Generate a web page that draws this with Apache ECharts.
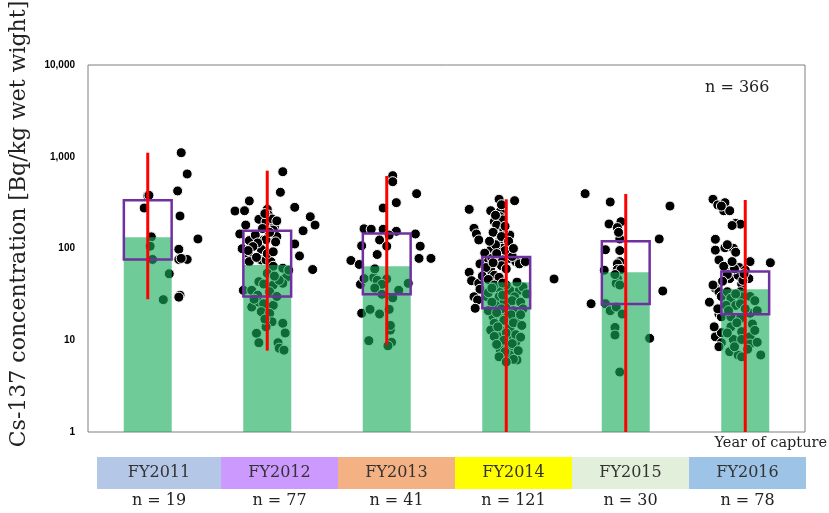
<!DOCTYPE html>
<html><head><meta charset="utf-8">
<script src="https://cdn.jsdelivr.net/npm/echarts@6/dist/echarts.min.js"></script>
<style>html,body{margin:0;padding:0;background:#fff}#c{width:829px;height:513px}</style>
</head><body><div id="c"></div>
<script>
// ---------- DATA ----------
const categories = ['FY2011','FY2012','FY2013','FY2014','FY2015','FY2016'];
const counts = [19, 77, 41, 121, 30, 78];
const bandColors = ['#B4C7E7','#CC99FF','#F4B183','#FFFF00','#E2EFDA','#9DC3E6'];
const medians = [133, 66, 64, 43, 55, 36];
const q1 = [76, 30, 31.7, 22.3, 24.8, 19.2];
const q3 = [335, 156, 146, 81, 120, 56];
const minVals = [28, 7.7, 8.9, 1, 1, 1];
const maxVals = [1107, 705, 617, 344, 393, 338];
const yTicks = [1, 10, 100, 1000, 10000];
// individual samples: [jitter (category units), Bq/kg]
const pts2011 = [[0.28,1107],[0.33,649],[0.00,376],[0.01,380],[0.25,424],[-0.03,276],[0.27,226],[0.42,127],[0.03,134],[0.02,106],[0.26,98],[0.04,76],[0.26,76],[0.33,76],[0.18,53],[0.27,31],[0.26,29.5],[0.13,27.7],[0.28,78]];
const pts2012 = [[0.13,687],[0.11,410],[-0.15,330],[0.23,281],[-0.27,256],[-0.19,258],[0.00,267],[-0.07,208],[0.01,232],[-0.01,196],[0.36,222],[0.40,180],[-0.18,180],[0.06,173],[0.05,159],[0.30,156],[0.08,135],[-0.23,144],[-0.15,122],[-0.03,124],[-0.01,125],[0.23,112],[-0.21,99.5],[-0.05,98],[0.27,83],[-0.15,85],[-0.05,75],[-0.15,72],[-0.01,75],[0.03,72],[0.38,59],[-0.20,35],
 [-0.10,140],[0.02,150],[-0.04,165],[0.04,210],[-0.08,115],[0.07,118],[-0.12,105],[0.00,88],[-0.09,80],[0.05,92],[-0.02,240],[0.08,200],[-0.16,95],
 [0.05,64],[0.13,61],[0.16,48.5],[0.13,41.8],[0.05,40],[0.00,53.7],[-0.07,43.5],[-0.03,41],[-0.13,35],[-0.08,31],[0.02,33.8],[-0.13,23],[-0.07,26],[-0.03,25],[0.05,24],[-0.05,20.5],[0.02,19.6],[0.04,15.9],[0.13,15.3],[-0.01,14],[-0.09,11.9],[-0.07,9.4],[0.09,9.4],[0.10,8.2],[0.14,7.8],
 [0.18,58],[0.10,45],[-0.11,28],[0.08,30],[-0.02,17],[0.15,12],[0.06,50]];
const pts2013 = [[0.05,622],[0.05,535],[0.25,396],[0.08,316],[-0.03,276],[-0.19,164],[-0.13,162],[-0.03,162],[0.08,154],[0.24,144],[-0.06,124],[0.00,106],[-0.21,107],[0.28,106],[-0.08,86],[0.27,78],[0.37,78],[-0.30,74],[-0.23,67],[-0.22,40.7],[-0.21,19.7],
 [-0.11,48],[-0.08,45],[0.00,46.5],[-0.19,47],[-0.04,40.7],[-0.10,37],[0.18,41.7],[0.05,29],[-0.04,31.7],[-0.14,21.7],[-0.06,19.3],[0.02,21.7],[0.03,12.9],[-0.15,9.9],[0.04,9.5],[0.01,8.7],
 [0.02,140],[-0.10,60],[0.10,35],[0.03,14.5]];
const pts2014 = [[-0.06,344],[0.07,332],[-0.31,267],[-0.13,258],[-0.05,252],[-0.05,222],[-0.10,196],[-0.03,205],[-0.27,166],[-0.25,144],[-0.23,124],[0.03,140],[-0.05,129],[-0.06,114],[-0.03,100.5],[-0.06,92],[-0.13,96],[-0.18,89],[-0.09,85],[0.01,87],[0.03,78],[0.08,72],[0.15,70],[0.11,68],[-0.15,72],[-0.22,68],[-0.31,55],[-0.29,44.6],[-0.23,41.8],[-0.13,58],[-0.10,51],[-0.06,48.5],[-0.22,36],[-0.27,29.8],[-0.24,27.5],[-0.26,22.3],[0.16,72],[0.40,46.5],
 [-0.08,180],[-0.02,160],[-0.11,150],[-0.04,135],[0.02,120],[-0.09,110],[-0.01,95],[-0.12,78],[-0.03,75],[0.05,82],[-0.17,62],[-0.04,65],[-0.20,50],[-0.15,46],[-0.11,70],[0.00,60],[-0.08,88],[0.06,100],[-0.14,120],[-0.04,300],[-0.09,230],[-0.01,175],
 [-0.16,29.8],[-0.06,38],[-0.05,35],[0.03,35],[0.11,35],[-0.06,29.8],[0.07,29.8],[-0.02,26],[-0.09,24],[0.03,23],[-0.06,19.7],[-0.11,18],[0.01,18],[0.08,17.3],[-0.10,15.3],[-0.13,12.9],[-0.05,12.9],[0.03,13.5],[-0.06,10.9],[0.01,10.5],[0.08,9.6],[-0.02,8.9],[0.03,8.5],[-0.05,7.8],[0.03,6.9],[0.09,6.1],
 [0.00,40],[-0.10,40],[0.14,38],[0.17,32],[-0.15,33],[-0.03,31],[0.05,27],[0.12,26],[-0.12,26],[-0.04,22],[0.06,21],[0.14,22],[-0.15,21],[-0.08,20],[0.04,19],[0.12,19],[-0.02,16.5],[0.06,15.5],[0.13,14.5],[-0.07,14],[0.00,12],[0.08,11.5],[-0.10,11],[-0.02,10],[0.12,10.8],[-0.08,9],[0.05,9.2],[-0.01,7.5],[0.10,7.7],[-0.06,6.6],[0.06,6.2],[0.00,5.8],[-0.03,42],[0.09,43],[-0.12,37]];
const pts2015 = [[-0.34,396],[-0.13,321],[0.37,290],[-0.14,185],[-0.04,196],[-0.07,169],[-0.05,127],[0.28,127],[-0.17,97],[-0.05,95],[-0.05,72],[-0.07,68],[-0.18,58],[-0.07,59],[-0.04,59],[0.31,34.4],[-0.29,25],[0.20,10.5],
 [-0.07,47],[-0.08,41.8],[-0.05,40],[-0.17,25],[-0.13,21],[-0.08,23],[-0.03,19.3],[-0.09,13.8],[-0.09,11.4],[-0.05,4.5],[-0.06,150],[-0.09,52]];
const pts2016 = [[-0.27,344],[-0.23,298],[-0.17,316],[-0.18,258],[-0.13,258],[-0.08,188],[-0.04,184],[-0.25,126],[-0.25,96],[-0.17,102],[-0.10,100.5],[-0.08,91],[-0.22,75],[0.04,72],[0.21,70],[-0.12,56],[-0.13,47],[-0.06,51],[0.03,47],[-0.03,41],[-0.25,36.8],[-0.22,33.8],[-0.30,26],[-0.22,19.3],[-0.20,18],[-0.25,10.9],[-0.20,12.1],[-0.20,9.4],
 [-0.20,290],[-0.11,178],[-0.15,110],[-0.05,62],[-0.09,60],[-0.15,52],[-0.27,40],[-0.20,30],[-0.23,22],[-0.26,14],[-0.22,8.5],[-0.19,44],[0.00,58],[-0.02,45],[-0.18,64],[-0.11,72],[-0.01,53],
 [-0.15,33.8],[-0.04,33.8],[-0.12,28.7],[-0.03,29.8],[0.04,30],[-0.16,24],[-0.08,24],[-0.04,25],[-0.12,18],[0.04,19.7],[-0.04,17.3],[-0.12,14],[-0.03,12.4],[0.04,10.9],[-0.10,10.2],[-0.03,10.2],[0.04,9.1],[-0.13,7.5],[-0.06,6.9],[-0.03,6.6],[0.13,6.9],
 [-0.08,32],[0.08,27],[-0.14,21],[0.00,22],[0.10,21],[-0.07,15.5],[0.06,15],[-0.15,12],[0.08,12.8],[-0.09,8.5],[0.02,8],[0.10,9.5]];
const samples = [pts2011, pts2012, pts2013, pts2014, pts2015, pts2016];

// ---------- BUILD ----------
const SERIF = '"DejaVu Serif", "Liberation Serif", serif';
const scatterData = [];
samples.forEach((arr, i) => arr.forEach(p => scatterData.push([i + 1 + p[0], p[1]])));
const barData = medians.map((v, i) => [i + 1, v]);
const boxData = categories.map((c, i) => [i + 1, q1[i], q3[i]]);
const rangeData = categories.map((c, i) => [i + 1, minVals[i], maxVals[i]]);
const total = counts.reduce((a, b) => a + b, 0);

const chart = echarts.init(document.getElementById('c'), null, {renderer: 'canvas'});

// band layout (decoration under the axis)
const bandEdges = [97, 221, 338, 455, 572, 689, 806];
const graphics = [];
categories.forEach((c, i) => {
  const x0 = bandEdges[i], x1 = bandEdges[i + 1];
  graphics.push({type: 'rect', shape: {x: x0, y: 457, width: x1 - x0, height: 32}, style: {fill: bandColors[i]}, silent: true});
  graphics.push({type: 'text', x: (x0 + x1) / 2, y: 473, style: {text: c, textAlign: 'center', textVerticalAlign: 'middle', font: '16px ' + SERIF, fill: '#333'}});
  graphics.push({type: 'text', x: (x0 + x1) / 2, y: 501, style: {text: 'n = ' + counts[i], textAlign: 'center', textVerticalAlign: 'middle', font: '16px ' + SERIF, fill: '#222'}});
});
graphics.push({type: 'text', x: 827, y: 443, style: {text: 'Year of capture', textAlign: 'right', textVerticalAlign: 'middle', font: '14.5px ' + SERIF, fill: '#222'}});
graphics.push({type: 'text', x: 705, y: 88, style: {text: 'n = ' + total, textAlign: 'left', textVerticalAlign: 'middle', font: '16px ' + SERIF, fill: '#222'}});
graphics.push({type: 'text', x: 19, y: 224, rotation: Math.PI / 2, style: {text: 'Cs-137 concentration [Bq/kg wet wight]', textAlign: 'center', textVerticalAlign: 'middle', font: '22px ' + SERIF, fill: '#222'}});

chart.setOption({
  animation: false,
  backgroundColor: '#fff',
  grid: {left: 88, right: 24, top: 65, bottom: 81, show: true, borderColor: '#7f7f7f', borderWidth: 1, backgroundColor: 'transparent'},
  xAxis: {type: 'value', min: 0.5, max: 6.5, axisLine: {show: false}, axisTick: {show: false}, axisLabel: {show: false}, splitLine: {show: false}},
  yAxis: {type: 'log', logBase: 10, min: yTicks[0], max: yTicks[yTicks.length - 1],
    axisLine: {show: false}, axisTick: {show: false}, splitLine: {show: false},
    axisLabel: {margin: 13, fontSize: 10, fontWeight: 'bold', color: '#000', fontFamily: 'Liberation Sans, Arial',
      formatter: v => Math.round(v).toLocaleString('en-US')}},
  graphic: graphics,
  series: [
    {type: 'scatter', z: 2, data: scatterData, symbolSize: 10,
      itemStyle: {color: '#000', borderColor: '#fff', borderWidth: 1, opacity: 1}},
    {type: 'bar', z: 3, data: barData, barWidth: 48,
      itemStyle: {color: 'rgb(23,173,90)', opacity: 0.62}},
    {type: 'custom', z: 4, data: boxData, renderItem: (params, api) => {
      const x = api.value(0);
      const p1 = api.coord([x, api.value(1)]);
      const p2 = api.coord([x, api.value(2)]);
      const w = api.size([0.4, 0])[0];
      return {type: 'rect', shape: {x: p1[0] - w / 2, y: p2[1], width: w, height: p1[1] - p2[1]},
        style: {fill: 'none', stroke: '#7030A0', lineWidth: 2.5}};
    }},
    {type: 'custom', z: 5, data: rangeData, renderItem: (params, api) => {
      const x = api.value(0);
      const p1 = api.coord([x, api.value(1)]);
      const p2 = api.coord([x, api.value(2)]);
      return {type: 'line', shape: {x1: p1[0], y1: p1[1], x2: p2[0], y2: p2[1]},
        style: {stroke: '#FF0000', lineWidth: 3}};
    }}
  ]
});
</script></body></html>
